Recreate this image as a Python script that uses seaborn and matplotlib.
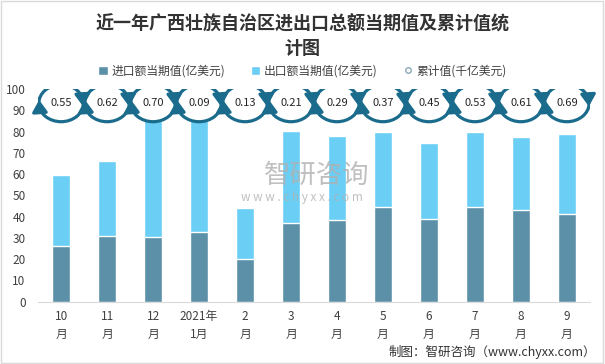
import numpy as np
import pandas as pd
import seaborn as sns
import matplotlib.pyplot as plt
from matplotlib.patches import Patch, Ellipse, Arc, Rectangle
from matplotlib.lines import Line2D

# data
months = ["10\n月", "11\n月", "12\n月", "2021年\n1月", "2\n月", "3\n月",
          "4\n月", "5\n月", "6\n月", "7\n月", "8\n月", "9\n月"]
import_vals = [26.2, 30.9, 30.5, 32.8, 20.1, 37.1, 38.5, 44.6, 38.9, 44.6, 43.2, 41.3]
export_vals = [33.3, 35.3, 57.5, 57.2, 24.0, 43.3, 39.5, 35.3, 35.8, 35.3, 34.3, 37.7]
cumulative = [0.55, 0.62, 0.70, 0.09, 0.13, 0.21, 0.29, 0.37, 0.45, 0.53, 0.61, 0.69]

DARK = "#5B90A8"
LIGHT = "#6BCEF5"
RING = "#1A6B8C"
TXT = "#404040"

sns.set_style("white")
plt.rcParams["font.family"] = ["Noto Sans CJK SC", "DejaVu Sans"]

df = pd.DataFrame({"month": months, "import": import_vals, "export": export_vals})
df["total"] = df["import"] + df["export"]

fig = plt.figure(figsize=(6.05, 3.64), dpi=100)
ax = fig.add_axes([0.063, 0.171, 0.912, 0.584])

sns.barplot(data=df, x="month", y="total", order=months, color=LIGHT,
            saturation=1, width=0.4, ax=ax, zorder=2)
sns.barplot(data=df, x="month", y="import", order=months, color=DARK,
            saturation=1, width=0.4, ax=ax, zorder=2)

#####################################################################
# cycle icons with cumulative values
#####################################################################
ring_y, ring_w, ring_h = 93.4, 0.97, 17.4
a, b = ring_w / 2, ring_h / 2


def pt(cx, th):
    t = np.deg2rad(th)
    return (cx + a * np.cos(t), ring_y + b * np.sin(t))


for i, val in enumerate(cumulative):
    ax.add_patch(Ellipse((i, ring_y), ring_w, ring_h, facecolor="white",
                         edgecolor="none", zorder=3))
    ax.add_patch(Arc((i, ring_y), ring_w, ring_h, theta1=10, theta2=170,
                     color=RING, lw=2.3, zorder=4))
    ax.add_patch(Arc((i, ring_y), ring_w, ring_h, theta1=190, theta2=350,
                     color=RING, lw=2.3, zorder=4))
    # arrow heads, clockwise
    for th in (0, 180):
        ax.annotate("", xy=pt(i, th - 10), xytext=pt(i, th + 16),
                    arrowprops=dict(arrowstyle="-|>,head_length=0.7,head_width=0.45",
                                    color=RING, lw=2.3, mutation_scale=10,
                                    shrinkA=0, shrinkB=0), zorder=4)
    ax.text(i, ring_y, f"{val:.2f}", ha="center", va="center", fontsize=8,
            color="#262626", zorder=5)

ax.set_ylim(0, 100)
ax.set_yticks(range(0, 101, 10))
ax.set_xlim(-0.5, 11.5)
ax.set_xlabel("")
ax.set_ylabel("")
for s in ["top", "right", "left"]:
    ax.spines[s].set_visible(False)
ax.spines["bottom"].set_color("#D9D9D9")
ax.tick_params(axis="both", length=0, labelsize=8.5, labelcolor=TXT)
ax.tick_params(axis="y", pad=9)
ax.tick_params(axis="x", pad=6)
for lab in ax.get_xticklabels():
    lab.set_linespacing(1.5)

#####################################################################
# texts
#####################################################################
fig.text(0.5, 1 - 36 / 364, "近一年广西壮族自治区进出口总额当期值及累计值统\n计图",
         ha="center", va="center", fontsize=13, fontweight="bold",
         color="#333333", linespacing=1.35)

handles = [Patch(facecolor=DARK), Patch(facecolor=LIGHT),
           Line2D([], [], marker="o", ls="none", markersize=4,
                  markerfacecolor="white", markeredgecolor="#8AA9B8")]
labels = ["进口额当期值(亿美元)", "出口额当期值(亿美元)", "累计值(千亿美元)"]
fig.legend(handles, labels, loc="center", bbox_to_anchor=(0.5, 1 - 71 / 364),
           ncol=3, frameon=False, fontsize=8.5, handlelength=0.8,
           handleheight=0.8, handletextpad=0.3, columnspacing=2.2,
           labelcolor=TXT)

# watermark
fig.text(317 / 605, 1 - 175 / 364, "智研咨询", ha="center", va="center",
         fontsize=19, color="#B0B0B0", alpha=0.8, zorder=10)
fig.text(302 / 605, 1 - 197 / 364, "w w w . c h y x x . c o m", ha="center",
         va="center", fontsize=8.5, color="#B0B0B0", alpha=0.8, zorder=10)

fig.text(0.985, 1 - 352 / 364, "制图：智研咨询（www.chyxx.com）", ha="right",
         va="center", fontsize=9, color="#333333")

fig.patches.append(Rectangle((0.002, 0.003), 0.995, 0.994, transform=fig.transFigure,
                             fill=False, edgecolor="#D9D9D9", lw=1))

fig.savefig("out.png", dpi=100)
